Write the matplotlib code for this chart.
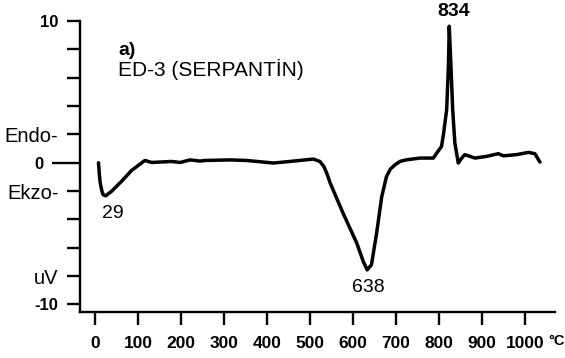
import matplotlib
matplotlib.use('Agg')
import matplotlib.pyplot as plt

# ---- data ----
temperature = [8, 10, 12, 16, 19, 25, 39, 62, 85, 116, 132, 178, 198, 221, 244, 256, 314, 353,
               415, 453, 508, 523, 532, 539, 547, 577, 609, 624, 633, 643, 655, 667, 678,
               687, 698, 710, 725, 756, 787, 795, 806, 811, 818, 822, 824, 828, 832, 837, 845,
               853, 860, 884, 911, 938, 950, 980, 1008, 1023, 1035]
signal = [0.0, -0.8, -1.43, -2.0, -2.26, -2.33, -2.0, -1.3, -0.54, 0.16, 0.02, 0.09, 0.02, 0.2, 0.12,
          0.16, 0.2, 0.16, -0.02, 0.09, 0.26, 0.09, -0.25, -0.73, -1.43, -3.56, -5.68, -6.97,
          -7.56, -7.2, -4.97, -2.38, -0.97, -0.45, -0.14, 0.1, 0.21, 0.33, 0.33, 0.69, 1.15, 2.1,
          3.75, 6.8, 9.63, 6.8, 3.75, 1.4, -0.02, 0.33, 0.57, 0.33, 0.45, 0.64, 0.49,
          0.57, 0.73, 0.64, 0.05]

x_ticks = [0, 100, 200, 300, 400, 500, 600, 700, 800, 900, 1000]
x_tick_labels = ['0', '100', '200', '300', '400', '500', '600', '700', '800', '900', '1000']
y_major = [-10, -8, -6, -4, -2, 2, 4, 6, 8, 10]
y_major_labels = ['-10', 'uV', '', '', 'Ekzo-', 'Endo-', '', '', '', '10']
y_minor = [0]
y_minor_labels = ['0']

peak_T = [25, 633, 824]
peak_V = [-2.33, -7.56, 9.63]
peak_text = ['29', '638', '834']
peak_bold = [False, False, True]
peak_offset = [(5, -12.5), (1, -12.5), (3, 10.5)]

plt.rcParams['font.family'] = ['Liberation Sans', 'DejaVu Sans']

fig = plt.figure(figsize=(5.65, 3.58), dpi=100)
ax = fig.add_axes([80 / 565, 1 - 312 / 358, 475 / 565, 291 / 358])

ax.plot(temperature, signal, color='black', lw=2.5, solid_joinstyle='round',
        solid_capstyle='round')

ax.set_xlim(-35, 1070)
ax.set_ylim(-10.53, 10.0)

for s in ['top', 'right']:
    ax.spines[s].set_visible(False)
for s in ['left', 'bottom']:
    ax.spines[s].set_linewidth(1.7)

ax.set_xticks(x_ticks)
ax.set_xticklabels(x_tick_labels, fontsize=12.5, fontweight='bold')
ax.set_yticks(y_major)
ax.set_yticklabels(y_major_labels, fontsize=12)
ax.set_yticks(y_minor, minor=True)
ax.set_yticklabels(y_minor_labels, minor=True, fontsize=12, fontweight='bold')
for lab, t in zip(ax.get_yticklabels(), y_major_labels):
    if t in ('-10', '10'):
        lab.set_fontweight('bold')
    else:
        lab.set_fontsize(14.5)

ax.tick_params(axis='x', which='major', direction='out', length=9, width=1.7, pad=8)
ax.tick_params(axis='y', which='major', direction='out', length=9.5, width=1.7, pad=6)
ax.tick_params(axis='y', which='minor', direction='out', length=20, width=1.7, pad=6)

# degree unit next to the last tick label
ax.annotate('°C', xy=(x_ticks[-1], 0), xycoords=('data', 'axes fraction'),
            xytext=(17, -21), textcoords='offset points', fontsize=10.5,
            fontweight='bold', ha='left', va='center', annotation_clip=False)

for T, V, txt, b, off in zip(peak_T, peak_V, peak_text, peak_bold, peak_offset):
    ax.annotate(txt, xy=(T, V), xytext=off, textcoords='offset points',
                ha='center', va='center', fontsize=14,
                fontweight='bold' if b else 'normal', annotation_clip=False)

ax.text(0.08, 0.882, 'a)', transform=ax.transAxes, fontsize=14, fontweight='bold',
        ha='left', va='baseline')
ax.text(0.08, 0.81, 'ED-3 (SERPANTİN)', transform=ax.transAxes, fontsize=15,
        ha='left', va='baseline')

fig.savefig('out.png', dpi=100)
